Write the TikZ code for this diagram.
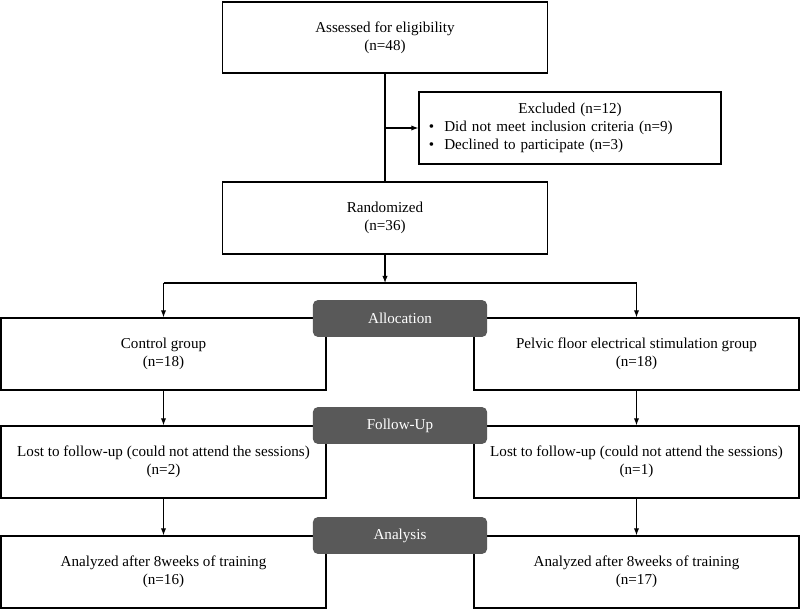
\documentclass[tikz,border=0pt]{standalone}
\usepackage{fontspec}
\setmainfont{Liberation Serif}
\usepackage{xcolor}
\definecolor{stage-gray}{RGB}{89,89,89}
\usetikzlibrary{arrows.meta,positioning}

\begin{document}
\begin{tikzpicture}[x=0.03cm,y=-0.03cm,
    font=\fontsize{12.9}{15.5}\selectfont,
    box/.style={draw,line width=1.1pt,align=center,minimum width=9.75cm,minimum height=2.16cm,inner sep=2pt},
    stage/.style={fill=stage-gray,text=white,rounded corners=4pt,minimum width=5.22cm,minimum height=1.1cm},
    arr/.style={line width=0.9pt,-{Latex[length=6pt,width=4.5pt]}},
    link/.style={line width=0.9pt}]
    \useasboundingbox (0,0) rectangle (800,609);

    % enrollment
    \node[box,minimum height=2.13cm] (assess) at (385,37.5) {Assessed for eligibility\\(n=48)};
    \node[box,minimum width=9.06cm,text width=9.06cm,inner sep=0pt,align=left] (excl) at (570,128)
        {{\centering Excluded (n=12)\par}
         \hspace*{0.3cm}\textbullet\hspace*{0.3cm}Did not meet inclusion criteria (n=9)\\
         \hspace*{0.3cm}\textbullet\hspace*{0.3cm}Declined to participate (n=3)};
    \node[box] (rand) at (385,218) {Randomized\\(n=36)};

    % allocation
    \node[box] (ctrl) at (163.5,354) {Control group\\(n=18)};
    \node[box] (pes) at (636.5,354) {Pelvic floor electrical stimulation group\\(n=18)};
    % follow-up
    \node[box] (lostc) at (163.5,462) {Lost to follow-up (could not attend the sessions)\\(n=2)};
    \node[box] (lostp) at (636.5,462) {Lost to follow-up (could not attend the sessions)\\(n=1)};
    % analysis
    \node[box] (anac) at (163.5,572) {Analyzed after 8weeks of training\\(n=16)};
    \node[box] (anap) at (636.5,572) {Analyzed after 8weeks of training\\(n=17)};

    \coordinate (split) at (385,283);
    \draw[link] (assess) -- (rand);
    \draw[arr] (assess.south |- excl.west) -- (excl.west);
    \draw[arr] (rand) -- (split);
    \draw[link] (ctrl.north |- split) -- (pes.north |- split);
    \draw[arr] (ctrl.north |- split) -- (ctrl.north);
    \draw[arr] (pes.north |- split) -- (pes.north);
    \draw[arr] (ctrl) -- (lostc);
    \draw[arr] (pes) -- (lostp);
    \draw[arr] (lostc) -- (anac);
    \draw[arr] (lostp) -- (anap);

    \node[stage] (alloc) at (400,318.5) {Allocation};
    \node[stage] (follow) at (400,425.5) {Follow-Up};
    \node[stage] (analysis) at (400,535.5) {Analysis};
\end{tikzpicture}
\end{document}
